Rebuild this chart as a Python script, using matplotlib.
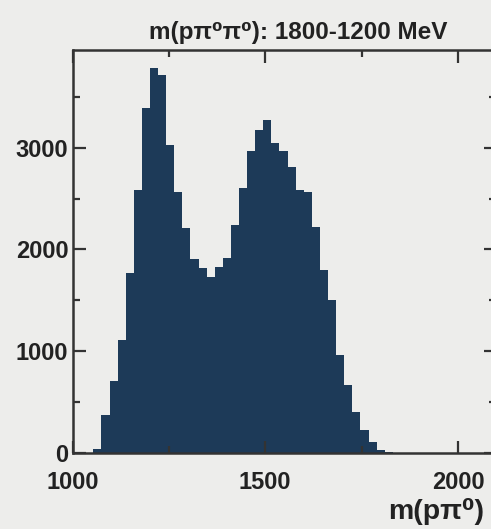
import numpy as np
import matplotlib
matplotlib.use("Agg")
import matplotlib.pyplot as plt
from matplotlib.ticker import MultipleLocator

plt.rcParams['font.family'] = ['Liberation Sans', 'DejaVu Sans']
plt.rcParams['font.weight'] = 'bold'

# histogram of m(p pi0), bins
bin_start = 1054    # MeV, left edge of first bin
bin_width = 21      # MeV
counts = [40, 374, 705, 1111, 1767, 2586, 3389, 3782, 3717, 3028,
          2569, 2209, 1910, 1820, 1733, 1832, 1914, 2242, 2603, 2963,
          3176, 3274, 3045, 2970, 2815, 2586, 2560, 2225, 1799, 1504,
          964, 669, 406, 226, 111, 30, 8]

title = "m(p\u03c0\u2070\u03c0\u2070): 1800-1200 MeV"
xlabel = "m(p\u03c0\u2070)"
xticks = [1000, 1500, 2000]
yticks = [0, 1000, 2000, 3000]

edges = bin_start + bin_width * np.arange(len(counts) + 1)

bg = '#ededeb'
fig = plt.figure(figsize=(4.91, 5.29), dpi=100, facecolor=bg)
ax = fig.add_axes([0.1477, 0.1437, 0.8635, 0.7618], facecolor=bg)

ax.stairs(counts, edges, fill=True, color='#1d3a58', linewidth=0)

ax.set_xlim(1000, 2100)
ax.set_ylim(0, 3960)
ax.set_xticks(xticks)
ax.set_yticks(yticks)
ax.xaxis.set_minor_locator(MultipleLocator(250))
ax.yaxis.set_minor_locator(MultipleLocator(500))
ax.tick_params(which='both', direction='in', top=True, right=True,
               color='#333333', width=1.6, labelsize=17)
ax.tick_params(which='major', length=9)
ax.tick_params(which='minor', length=5)
ax.tick_params(axis='x', pad=13)
ax.tick_params(axis='y', pad=3)
for lab in ax.get_xticklabels() + ax.get_yticklabels():
    lab.set_fontweight('bold')
    lab.set_color('#222222')
# the "0" sits a bit low in the original, just above "1000"
ax.get_yticklabels()[0].set_verticalalignment('center_baseline')
for sp in ax.spines.values():
    sp.set_linewidth(1.8)
    sp.set_color('#333333')

fig.text(0.607, 0.938, title, ha='center', va='center', fontsize=17.5,
         fontweight='bold', color='#222222')
fig.text(0.985, 0.034, xlabel, ha='right', va='center', fontsize=20.5,
         fontweight='bold', color='#222222')

fig.savefig('out.png', dpi=100, facecolor=bg)
